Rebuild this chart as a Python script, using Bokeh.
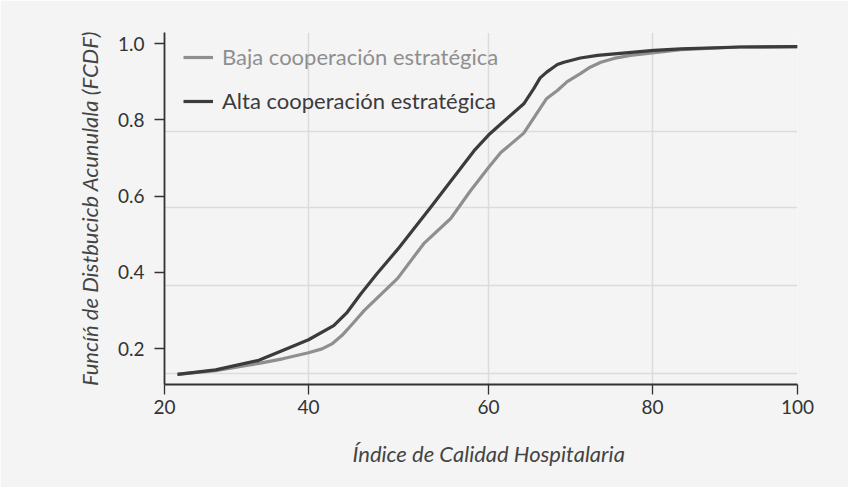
import numpy as np
from bokeh.plotting import figure
from bokeh.models import Range1d, FixedTicker, Legend, LegendItem, Title
from bokeh.embed import file_html
from bokeh.resources import INLINE

# ---- data ----
alta_x = [21.8, 27.1, 33.1, 36.4, 40.0, 42.8, 44.3, 45.8, 47.6, 49.9, 53.6, 58.4, 60.0,
          61.5, 64.3, 65.5, 66.3, 67.1, 67.8, 68.4, 69.2, 71.2, 73.3, 80.2, 83.9, 92.1, 100.0]
alta_y = [0.132, 0.144, 0.169, 0.195, 0.223, 0.260, 0.295, 0.343, 0.396, 0.460, 0.571, 0.719, 0.760,
          0.789, 0.842, 0.881, 0.910, 0.925, 0.936, 0.945, 0.951, 0.962, 0.969, 0.982, 0.986, 0.991, 0.992]

baja_x = [21.8, 27.1, 33.1, 36.4, 40.0, 41.5, 42.6, 43.7, 44.9, 46.2, 49.9, 52.8, 55.8, 58.0, 60.0,
          61.5, 64.3, 67.1, 68.4, 69.6, 71.2, 72.4, 73.7, 75.3, 77.3, 83.9, 92.1, 100.0]
baja_y = [0.132, 0.142, 0.161, 0.173, 0.189, 0.199, 0.212, 0.234, 0.265, 0.300, 0.384, 0.475, 0.541, 0.614, 0.675,
          0.714, 0.765, 0.856, 0.877, 0.900, 0.921, 0.938, 0.951, 0.961, 0.969, 0.984, 0.991, 0.992]

x_ticks = [20, 40, 60, 80, 100]
y_ticks = [0.2, 0.4, 0.6, 0.8, 1.0]
y_grid = [0.134, 0.365, 0.570, 0.769]
series_names = ["Baja cooperación estratégica", "Alta cooperación estratégica"]
x_title = "Índice de Calidad Hospitalaria"
y_title = "Funcíń de Distbucicb Acunulala (FCDF)"

# the reference axis is not evenly spaced: tick positions along the axis (display units)
x_tick_pos = [20, 38.2, 60.95, 81.67, 100]

def to_disp(v):
    return np.interp(v, x_ticks, x_tick_pos)

BG = "#f4f4f4"
TXT = "#333333"
DARK = "#3b3b3b"
LIGHT = "#8f8f8f"
FONT = "Lato"

p = figure(width=848, height=487, output_backend="svg", toolbar_location=None,
           x_range=Range1d(20, 100), y_range=Range1d(0.1056, 1.029),
           min_border_left=164, min_border_right=51, min_border_top=32, min_border_bottom=103)
p.background_fill_color = BG
p.border_fill_color = BG
p.outline_line_color = None

r_baja = p.line(to_disp(baja_x), baja_y, line_color=LIGHT, line_width=3.2, line_join="round")
r_alta = p.line(to_disp(alta_x), alta_y, line_color=DARK, line_width=3.2, line_join="round")

# axes
p.xaxis.ticker = FixedTicker(ticks=list(x_tick_pos))
p.xaxis.major_label_overrides = {(int(pos) if pos == int(pos) else float(pos)): str(v)
                                 for pos, v in zip(x_tick_pos, x_ticks)}
p.yaxis.ticker = FixedTicker(ticks=y_ticks)
p.yaxis.major_label_overrides = {v: f"{v:.1f}" for v in y_ticks}
for ax in (p.xaxis[0], p.yaxis[0]):
    ax.axis_line_color = TXT
    ax.axis_line_width = 1.8
    ax.major_tick_line_color = TXT
    ax.major_tick_line_width = 1.3
    ax.major_tick_out = 10
    ax.major_tick_in = 0
    ax.minor_tick_line_color = None
    ax.major_label_text_font = FONT
    ax.major_label_text_font_size = "19px"
    ax.major_label_text_color = TXT
    ax.axis_label_text_font = FONT
    ax.axis_label_text_font_style = "italic"
    ax.axis_label_text_color = "#444444"
p.xaxis.major_label_standoff = 5
p.yaxis.axis_label = y_title
p.yaxis.axis_label_text_font_size = "22px"
p.yaxis.major_label_standoff = 10
p.yaxis.axis_label_standoff = 12

# x-axis title (slightly right of centre, as in the reference)
p.add_layout(Title(text=x_title, align="left", offset=188, standoff=42,
                   text_font=FONT, text_font_style="italic", text_font_size="22px",
                   text_color="#444444"), "below")

# grid
p.xgrid.ticker = FixedTicker(ticks=list(x_tick_pos[1:]))
p.ygrid.ticker = FixedTicker(ticks=y_grid)
p.grid.grid_line_color = "#dcdcdc"
p.grid.grid_line_width = 1.5

# legends (one per item so text colours can differ)
for name, rend, col, bottom in ((series_names[0], r_baja, LIGHT, 314), (series_names[1], r_alta, DARK, 270)):
    lg = Legend(items=[LegendItem(label=name, renderers=[rend])], location=(19, bottom),
                padding=0, margin=0, border_line_color=None, background_fill_alpha=0,
                glyph_width=30, glyph_height=20, label_height=20, label_standoff=9,
                label_text_font=FONT, label_text_font_size="22px", label_text_color=col)
    p.add_layout(lg, "center")

html = file_html(p, INLINE)
html = html.replace("<body>", '<body style="background-color:#f4f4f4">', 1)
open("out.html", "w").write(html)
